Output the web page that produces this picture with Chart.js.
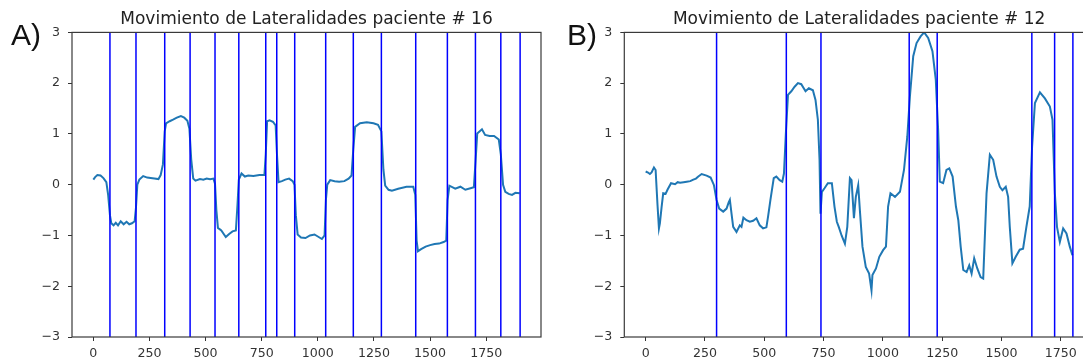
<!DOCTYPE html>
<html>
<head>
<meta charset="utf-8">
<script src="https://cdn.jsdelivr.net/npm/chart.js@4"></script>
<style>
  html, body { margin: 0; padding: 0; background: #fff; overflow: hidden; }
  #wrap { position: relative; width: 1083px; height: 362px; overflow: hidden; }
  canvas { position: absolute; top: 0; }
  #cA { left: 0; }
  #cB { left: 548px; }
  .tag { position: absolute; font-family: "Liberation Sans", Arial, sans-serif; font-size: 30px; line-height: 30px; color: #111; }
</style>
</head>
<body>
<div id="wrap">
  <canvas id="cA" width="548" height="362"></canvas>
  <canvas id="cB" width="560" height="362"></canvas>
  <div class="tag" style="left:11px; top:19.5px;">A)</div>
  <div class="tag" style="left:567px; top:19.5px;">B)</div>
</div>
<script>
// paciente 16
const xA = [0, 8, 18, 32, 45, 58, 66, 74, 80, 90, 100, 110, 122, 135, 148, 160, 172, 184, 190, 196,
  205, 222, 240, 255, 272, 290, 300, 310, 318, 324, 340, 355, 372, 390, 405, 419, 428, 436, 445, 455,
  475, 490, 505, 520, 535, 542, 548, 555, 570, 590, 605, 620, 635, 642, 648, 660, 675, 690, 713, 740,
  762, 768, 774, 785, 800, 812, 818, 825, 840, 855, 872, 888, 896, 902, 910, 925, 945, 965, 985, 1000,
  1018, 1030, 1036, 1042, 1055, 1075, 1095, 1118, 1137, 1150, 1158, 1166, 1188, 1218, 1248, 1268, 1283, 1292, 1300, 1315,
  1330, 1358, 1395, 1425, 1434, 1440, 1446, 1460, 1480, 1500, 1520, 1540, 1560, 1572, 1578, 1586, 1612, 1635, 1657, 1680,
  1695, 1703, 1710, 1731, 1745, 1765, 1785, 1806, 1815, 1825, 1835, 1850, 1865, 1880, 1899];
const yA = [0.10, 0.15, 0.19, 0.18, 0.13, 0.05, -0.20, -0.60, -0.76, -0.80, -0.75, -0.80, -0.72, -0.78, -0.73, -0.78, -0.76, -0.72, -0.45, 0.00,
  0.10, 0.17, 0.14, 0.13, 0.12, 0.11, 0.19, 0.40, 1.05, 1.21, 1.25, 1.28, 1.32, 1.35, 1.32, 1.26, 1.10, 0.50, 0.12, 0.08,
  0.11, 0.10, 0.12, 0.11, 0.12, 0.02, -0.50, -0.85, -0.90, -1.03, -0.97, -0.92, -0.90, -0.40, 0.10, 0.22, 0.16, 0.18, 0.17, 0.19,
  0.19, 0.60, 1.25, 1.27, 1.24, 1.17, 0.60, 0.05, 0.07, 0.10, 0.12, 0.07, 0.00, -0.60, -0.98, -1.04, -1.05, -1.00, -0.98, -1.02,
  -1.07, -1.00, -0.30, 0.00, 0.09, 0.07, 0.06, 0.07, 0.12, 0.18, 0.70, 1.14, 1.21, 1.23, 1.21, 1.18, 1.05, 0.30, -0.02, -0.10,
  -0.12, -0.08, -0.04, -0.04, -0.20, -1.10, -1.31, -1.27, -1.22, -1.19, -1.17, -1.16, -1.13, -1.10, -0.30, -0.02, -0.08, -0.04, -0.10, -0.07,
  -0.05, 0.50, 1.01, 1.09, 0.98, 0.96, 0.96, 0.89, 0.60, 0.00, -0.14, -0.18, -0.20, -0.16, -0.17];
const linesA = [74, 190, 318, 431, 542, 648, 768, 817, 897, 1035, 1158, 1283, 1436, 1577, 1702, 1815, 1901];

// paciente 12
const xB = [0, 10, 18, 25, 35, 42, 50, 56, 60, 67, 74, 84, 92, 107, 124, 135, 145, 160, 173, 188,
  201, 212, 222, 236, 257, 274, 288, 299, 310, 327, 341, 350, 355, 362, 369, 383, 397, 404, 412, 425,
  439, 453, 467, 481, 495, 509, 516, 526, 540, 551, 565, 576, 583, 591, 600, 614, 628, 642, 656, 674,
  688, 705, 716, 726, 733, 737, 743, 754, 768, 785, 796, 806, 814, 826, 840, 850, 861, 868, 878, 886,
  896, 903, 914, 928, 942, 952, 956, 971, 985, 1001, 1013, 1022, 1032, 1051, 1072, 1089, 1103, 1114, 1128, 1142,
  1159, 1174, 1191, 1209, 1223, 1233, 1240, 1254, 1268, 1280, 1294, 1308, 1318, 1328, 1339, 1353, 1364, 1374, 1385, 1398,
  1412, 1423, 1437, 1451, 1465, 1479, 1493, 1504, 1518, 1528, 1535, 1546, 1560, 1577, 1591, 1605, 1619, 1629, 1641, 1662,
  1683, 1704, 1715, 1725, 1734, 1746, 1760, 1774, 1788, 1799];
const yB = [0.26, 0.24, 0.21, 0.24, 0.34, 0.29, -0.40, -0.86, -0.76, -0.45, -0.17, -0.18, -0.10, 0.03, 0.01, 0.05, 0.04, 0.05, 0.06, 0.07,
  0.10, 0.12, 0.16, 0.21, 0.18, 0.14, -0.01, -0.30, -0.47, -0.53, -0.47, -0.35, -0.30, -0.57, -0.83, -0.93, -0.80, -0.83, -0.65, -0.70,
  -0.73, -0.71, -0.66, -0.80, -0.86, -0.84, -0.63, -0.30, 0.13, 0.16, 0.09, 0.06, 0.22, 1.01, 1.77, 1.84, 1.93, 2.00, 1.98, 1.84,
  1.90, 1.86, 1.67, 1.28, 0.49, -0.57, -0.14, -0.07, 0.03, 0.03, -0.43, -0.73, -0.83, -1.00, -1.16, -0.83, 0.13, 0.09, -0.66, -0.24,
  -0.01, -0.50, -1.22, -1.62, -1.75, -2.08, -1.78, -1.65, -1.42, -1.29, -1.22, -0.43, -0.17, -0.24, -0.14, 0.29, 0.95, 1.74, 2.53, 2.79,
  2.92, 3.00, 2.89, 2.63, 2.07, 1.08, 0.06, 0.03, 0.29, 0.32, 0.16, -0.43, -0.70, -1.22, -1.68, -1.72, -1.59, -1.75, -1.45, -1.65,
  -1.82, -1.85, -0.17, 0.59, 0.49, 0.16, -0.04, -0.11, -0.04, -0.24, -0.83, -1.55, -1.42, -1.28, -1.26, -0.83, -0.43, 0.75, 1.61, 1.82,
  1.70, 1.54, 1.28, -0.17, -0.83, -1.13, -0.86, -0.96, -1.22, -1.39];
const linesB = [299, 593, 739, 1111, 1229, 1628, 1724, 1801];

const xTicks = [0, 250, 500, 750, 1000, 1250, 1500, 1750];
const yTicks = [-3, -2, -1, 0, 1, 2, 3];
const titleA = 'Movimiento de Lateralidades paciente # 16';
const titleB = 'Movimiento de Lateralidades paciente # 12';

// marco completo alrededor del area
const marco = {
  id: 'marco',
  afterDraw(chart) {
    const a = chart.chartArea, c = chart.ctx;
    c.save();
    c.strokeStyle = '#3a3a3a';
    c.lineWidth = 1.2;
    c.strokeRect(a.left, a.top, a.right - a.left, a.bottom - a.top);
    c.restore();
  }
};

const etiqueta = v => String(v).replace('-', '\u2212');

function grafico(id, xs, ys, lineas, titulo, xmin, xmax, padLeft, padRight) {
  const puntos = xs.map((x, i) => ({ x: x, y: ys[i] }));
  const sets = [{
    data: puntos,
    showLine: true,
    borderColor: '#1f77b4',
    borderWidth: 2,
    pointRadius: 0,
    order: 1
  }];
  lineas.forEach(v => {
    sets.push({
      data: [{ x: v, y: yTicks[0] }, { x: v, y: yTicks[yTicks.length - 1] }],
      showLine: true,
      borderColor: '#0000ff',
      borderWidth: 1.5,
      pointRadius: 0,
      order: 0
    });
  });
  const fuente = { family: 'DejaVu Sans', size: 12.6 };
  return new Chart(document.getElementById(id), {
    type: 'scatter',
    data: { datasets: sets },
    plugins: [marco],
    options: {
      responsive: false,
      devicePixelRatio: 1,
      animation: false,
      layout: { padding: { left: padLeft, right: padRight, top: 0, bottom: 0 } },
      plugins: {
        legend: { display: false },
        tooltip: { enabled: false },
        title: {
          display: true,
          text: titulo,
          fullSize: false,
          color: '#222',
          font: { family: 'DejaVu Sans', size: 17, weight: 'normal' },
          padding: { top: 9, bottom: 3 }
        }
      },
      scales: {
        x: {
          type: 'linear',
          min: xmin,
          max: xmax,
          afterBuildTicks: s => { s.ticks = xTicks.map(v => ({ value: v })); },
          afterFit: s => { s.height = 25; },
          grid: { drawOnChartArea: false, tickLength: 4, color: '#333' },
          border: { display: false },
          ticks: { font: fuente, color: '#333', padding: 5, maxRotation: 0, autoSkip: false, callback: etiqueta }
        },
        y: {
          min: yTicks[0],
          max: yTicks[yTicks.length - 1],
          afterBuildTicks: s => { s.ticks = yTicks.map(v => ({ value: v })); },
          afterFit: s => { s.width = 40; },
          grid: { drawOnChartArea: false, tickLength: 4, color: '#333' },
          border: { display: false },
          ticks: { font: fuente, color: '#333', padding: 8, callback: etiqueta }
        }
      }
    }
  });
}

grafico('cA', xA, yA, linesA, titleA, -95, 1994, 32, 7);
grafico('cB', xB, yB, linesB, titleB, -90, 1890, 36.3, 14);
</script>
</body>
</html>
